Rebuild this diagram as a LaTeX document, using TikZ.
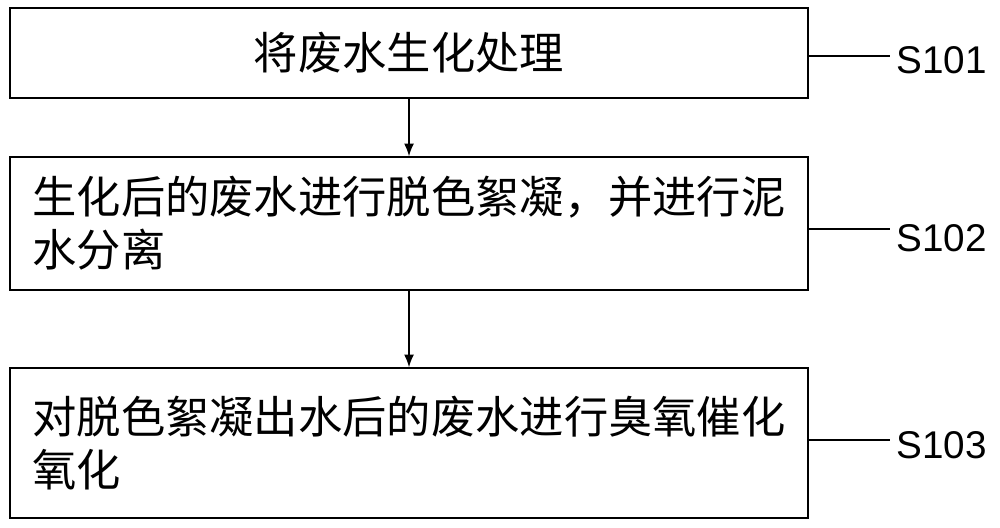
\documentclass[tikz,border=0pt]{standalone}
\usepackage{fontspec}
\newfontfamily\cjk{Noto Sans CJK SC}
\newfontfamily\lab{Liberation Sans}
\usetikzlibrary{positioning,arrows.meta}
\tikzset{
  stepbox/.style={draw, line width=1pt, minimum width=19.95cm, inner sep=0pt, align=left,
    font=\cjk\fontsize{31.5}{37.6}\selectfont},
  steplabel/.style={font=\lab\fontsize{27.5}{30}\selectfont, anchor=west, inner sep=0pt}
}
\begin{document}
\begin{tikzpicture}[x=0.025cm,y=-0.025cm]
\useasboundingbox (0,0) rectangle (1000,527);

\node[stepbox, minimum height=2.25cm] (box1) at (409,53) {将废水生化处理};
\node[stepbox, minimum height=3.325cm] (box2) at (409,223.5) {生化后的废水进行脱色絮凝，并进行泥\\水分离};
\node[stepbox, minimum height=3.75cm] (box3) at (409,443) {对脱色絮凝出水后的废水进行臭氧催化\\氧化};

\draw [-{Latex[length=9pt,width=7pt]}, line width=1pt] (box1.south) -- (box2.north);
\draw [-{Latex[length=9pt,width=7pt]}, line width=1pt] (box2.south) -- (box3.north);

\node[steplabel] (s101) at (896,60) {S101};
\node[steplabel] (s102) at (896,238) {S102};
\node[steplabel] (s103) at (896,445) {S103};
\draw [line width=1pt] (box1.east |- 0,56) -- ([xshift=-4pt]s101.west |- 0,56);
\draw [line width=1pt] (box2.east |- 0,229) -- ([xshift=-4pt]s102.west |- 0,229);
\draw [line width=1pt] (box3.east |- 0,440) -- ([xshift=-4pt]s103.west |- 0,440);
\end{tikzpicture}
\end{document}
